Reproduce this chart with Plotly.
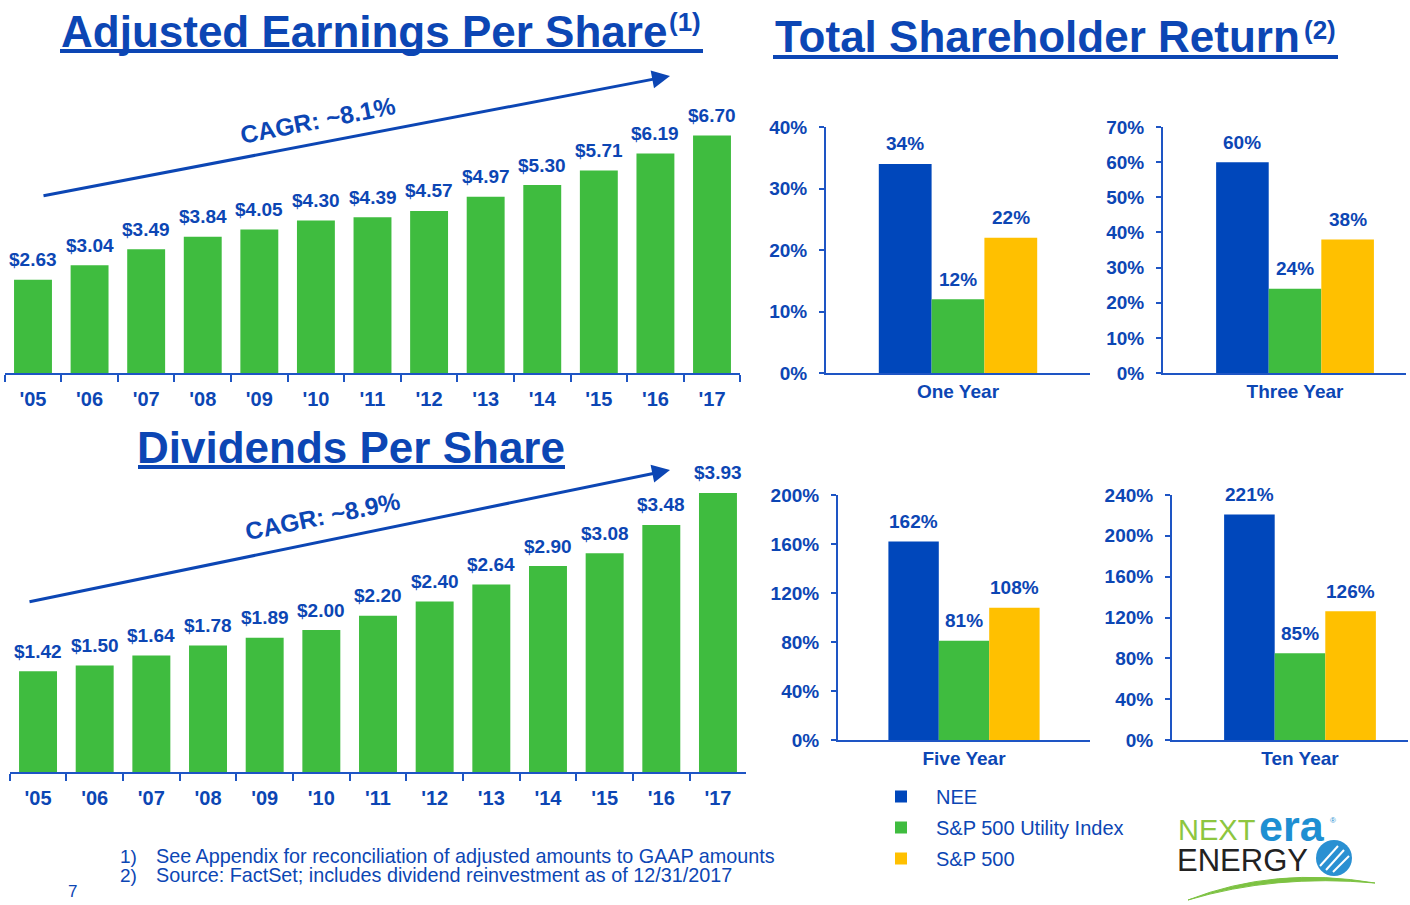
import plotly.graph_objects as go

W, H = 1410, 905

# ---------------- data ----------------
years = ["'05", "'06", "'07", "'08", "'09", "'10", "'11", "'12", "'13", "'14", "'15", "'16", "'17"]
eps = [2.63, 3.04, 3.49, 3.84, 4.05, 4.30, 4.39, 4.57, 4.97, 5.30, 5.71, 6.19, 6.70]
dps = [1.42, 1.50, 1.64, 1.78, 1.89, 2.00, 2.20, 2.40, 2.64, 2.90, 3.08, 3.48, 3.93]

periods = ["One Year", "Three Year", "Five Year", "Ten Year"]
nee = [34, 60, 162, 221]
util = [12, 24, 81, 85]
sp500 = [22, 38, 108, 126]
series_names = ["NEE", "S&P 500 Utility Index", "S&P 500"]
tsr_max = [40, 70, 200, 240]
tsr_dtick = [10, 10, 40, 40]

eps_cagr = "CAGR: ~8.1%"
dps_cagr = "CAGR: ~8.9%"

# ---------------- style ----------------
FONT = "Arial, 'Liberation Sans', sans-serif"
TXT = "#0C46B4"
LINE = "#1E55C4"
GREEN = "#3FBC3F"
BLUE_BAR = "#0047BB"
YELLOW = "#FFC000"
series_colors = [BLUE_BAR, GREEN, YELLOW]


def fx(px):
    return px / W


def fy(py):
    return 1 - py / H


fig = go.Figure()
annotations = []
shapes = []

# ---------------- EPS & DPS ----------------
fig.add_trace(go.Bar(x=years, y=eps, marker=dict(color=GREEN, line=dict(width=0)),
                     width=0.67, xaxis="x", yaxis="y", showlegend=False, hoverinfo="x+y"))
fig.add_trace(go.Bar(x=years, y=dps, marker=dict(color=GREEN, line=dict(width=0)),
                     width=0.67, xaxis="x2", yaxis="y2", showlegend=False, hoverinfo="x+y"))

for xs, vals, xr, yr in [(years, eps, "x", "y"), (years, dps, "x2", "y2")]:
    for c, v in zip(xs, vals):
        annotations.append(dict(x=c, y=v, xref=xr, yref=yr, text=f"${v:.2f}",
                                showarrow=False, yanchor="middle", yshift=20,
                                font=dict(family=FONT, size=19, color=TXT, weight="bold")))

cat_axis = dict(type="category", showline=True, linecolor=LINE, linewidth=2,
                ticks="outside", tickson="boundaries", ticklen=7, tickwidth=1.5,
                tickcolor=LINE, showgrid=False, zeroline=False, fixedrange=True,
                ticklabelstandoff=7,
                tickfont=dict(family=FONT, size=20, color=TXT, weight="bold"))

layout_axes = {}
layout_axes["xaxis"] = dict(cat_axis, domain=[fx(4.7), fx(740.3)], anchor="y")
layout_axes["yaxis"] = dict(domain=[fy(373), fy(100)], range=[0, 7.70], visible=False,
                            anchor="x", fixedrange=True)
layout_axes["xaxis2"] = dict(cat_axis, domain=[fx(9.7), fx(746.3)], anchor="y2")
layout_axes["yaxis2"] = dict(domain=[fy(772), fy(480)], range=[0, 292 / 71.0], visible=False,
                             anchor="x2", fixedrange=True)

# ---------------- TSR ----------------
tsr_boxes = [
    # x0, x1, y_bottom, y_top, xrange
    (826, 1090, 373, 127, [-0.5, 0.5]),
    (1163, 1406, 373, 127, [-0.502, 0.422]),
    (838, 1090, 740, 495, [-0.5, 0.5]),
    (1172, 1408, 740, 495, [-0.506, 0.427]),
]
offsets = [-0.3, -0.1, 0.1]
series_vals = [nee, util, sp500]

for i, (x0, x1, yb, yt, xrng) in enumerate(tsr_boxes):
    n = i + 3
    xa, ya = f"x{n}", f"y{n}"
    for s in range(3):
        v = series_vals[s][i]
        fig.add_trace(go.Bar(x=[periods[i]], y=[v], name=series_names[s],
                             marker=dict(color=series_colors[s], line=dict(width=0)),
                             width=0.2, offset=offsets[s], xaxis=xa, yaxis=ya,
                             showlegend=(i == 0), legendgroup=series_names[s],
                             hoverinfo="name+y"))
        annotations.append(dict(x=periods[i], y=v, xref=xa, yref=ya, text=f"{v}%",
                                showarrow=False, yanchor="middle", yshift=20,
                                xshift=(offsets[s] + 0.1) * (x1 - x0) / (xrng[1] - xrng[0]),
                                font=dict(family=FONT, size=19, color=TXT, weight="bold")))
    layout_axes[f"xaxis{n}"] = dict(type="category", domain=[fx(x0), fx(x1)], anchor=ya,
                                    range=xrng, showline=True, linecolor=LINE, linewidth=2,
                                    ticks="", showgrid=False, zeroline=False, fixedrange=True,
                                    ticklabelstandoff=0,
                                    tickfont=dict(family=FONT, size=19, color=TXT, weight="bold"))
    layout_axes[f"yaxis{n}"] = dict(domain=[fy(yb), fy(yt)], anchor=xa, range=[0, tsr_max[i]],
                                    dtick=tsr_dtick[i], tick0=0, ticksuffix="%",
                                    showline=True, linecolor=LINE, linewidth=2,
                                    ticks="outside", ticklen=5, tickwidth=1.5, tickcolor=LINE,
                                    showgrid=False, zeroline=False, fixedrange=True,
                                    ticklabelstandoff=8,
                                    tickfont=dict(family=FONT, size=19, color=TXT, weight="bold"))

# ---------------- titles ----------------
def title(text, cx, cy, size=44):
    annotations.append(dict(x=fx(cx), y=fy(cy), xref="paper", yref="paper", text=text,
                            showarrow=False, xanchor="center", yanchor="middle",
                            font=dict(family=FONT, size=size, color=TXT, weight="bold")))


title("Adjusted Earnings Per Share", 363.5, 31)
title("(1)", 685, 22, 26)
title("Total Shareholder Return", 1037.5, 36)
title("(2)", 1320, 30, 26)
title("Dividends Per Share", 350.5, 447)

for (xa0, xa1, yy) in [(60, 703, 51), (773, 1338, 57), (138, 565, 467)]:
    shapes.append(dict(type="line", xref="paper", yref="paper", x0=fx(xa0), x1=fx(xa1),
                       y0=fy(yy), y1=fy(yy), line=dict(color=TXT, width=4)))

# ---------------- CAGR arrows ----------------
for (tx, ty, hx, hy, lx, ly, txt, ang) in [
    (42, 196, 670, 76, 317, 120, eps_cagr, -11),
    (28, 602, 670, 470, 322, 516, dps_cagr, -11.5),
]:
    annotations.append(dict(x=fx(hx), y=fy(hy), ax=tx - hx, ay=ty - hy, xref="paper", yref="paper",
                            axref="pixel", ayref="pixel", text="", showarrow=True,
                            arrowhead=2, arrowsize=1.2, arrowwidth=3, arrowcolor=TXT))
    annotations.append(dict(x=fx(lx), y=fy(ly), xref="paper", yref="paper", text=txt,
                            showarrow=False, textangle=ang, xanchor="center", yanchor="middle",
                            font=dict(family=FONT, size=24.5, color=TXT, weight="bold")))

# ---------------- footnotes ----------------
foot = [("1)", "See Appendix for reconciliation of adjusted amounts to GAAP amounts", 856),
        ("2)", "Source: FactSet; includes dividend reinvestment as of 12/31/2017", 875)]
for num, txt, yy in foot:
    annotations.append(dict(x=fx(118), y=fy(yy), xref="paper", yref="paper", text=num,
                            showarrow=False, xanchor="left", yanchor="middle",
                            font=dict(family=FONT, size=19, color=TXT)))
    annotations.append(dict(x=fx(154), y=fy(yy), xref="paper", yref="paper", text=txt,
                            showarrow=False, xanchor="left", yanchor="middle",
                            font=dict(family=FONT, size=19.8, color=TXT)))
annotations.append(dict(x=fx(72), y=fy(891), xref="paper", yref="paper", text="7",
                        showarrow=False, xanchor="center", yanchor="middle",
                        font=dict(family=FONT, size=17, color=TXT)))

# ---------------- logo ----------------
annotations.append(dict(x=fx(1176), y=fy(830), xref="paper", yref="paper", text="NEXT",
                        showarrow=False, xanchor="left", yanchor="middle",
                        font=dict(family=FONT, size=29, color="#8DC63F")))
annotations.append(dict(x=fx(1257), y=fy(826), xref="paper", yref="paper", text="era",
                        showarrow=False, xanchor="left", yanchor="middle",
                        font=dict(family=FONT, size=43, color="#1E8FD2", weight="bold")))
annotations.append(dict(x=fx(1328), y=fy(820), xref="paper", yref="paper", text="®",
                        showarrow=False, xanchor="left", yanchor="middle",
                        font=dict(family=FONT, size=8, color="#1E8FD2")))
annotations.append(dict(x=fx(1175), y=fy(860), xref="paper", yref="paper", text="ENERGY",
                        showarrow=False, xanchor="left", yanchor="middle",
                        font=dict(family=FONT, size=31, color="#222222")))
shapes.append(dict(type="circle", xref="paper", yref="paper", x0=fx(1316), x1=fx(1352),
                   y0=fy(876), y1=fy(840), fillcolor="#2A90D2", line=dict(width=0)))
for (a, b, c, d) in [(1320, 866, 1338, 846), (1326, 870, 1344, 850), (1333, 872, 1349, 856)]:
    shapes.append(dict(type="line", xref="paper", yref="paper", x0=fx(a), y0=fy(b),
                       x1=fx(c), y1=fy(d), line=dict(color="white", width=2)))
arc = (f"M {fx(1188)},{fy(900)} Q {fx(1275)},{fy(866)} {fx(1375)},{fy(883)} "
       f"Q {fx(1275)},{fy(874)} {fx(1188)},{fy(900)} Z")
shapes.append(dict(type="path", xref="paper", yref="paper", path=arc,
                   fillcolor="#7DC242", line=dict(color="#7DC242", width=1)))

fig.update_layout(
    width=W, height=H,
    margin=dict(l=0, r=0, t=0, b=0, pad=0, autoexpand=False),
    paper_bgcolor="white", plot_bgcolor="white",
    barmode="group",
    font=dict(family=FONT, color=TXT),
    showlegend=True,
    legend=dict(x=fx(866), y=fy(777), xanchor="left", yanchor="top",
                bgcolor="rgba(0,0,0,0)", itemwidth=60, traceorder="grouped",
                font=dict(family=FONT, size=20, color=TXT), tracegroupgap=2),
    annotations=annotations,
    shapes=shapes,
    **layout_axes,
)

fig.write_html("out.html", config={"displayModeBar": False},
               post_script="document.body.style.margin='0';document.body.style.overflow='hidden';")
